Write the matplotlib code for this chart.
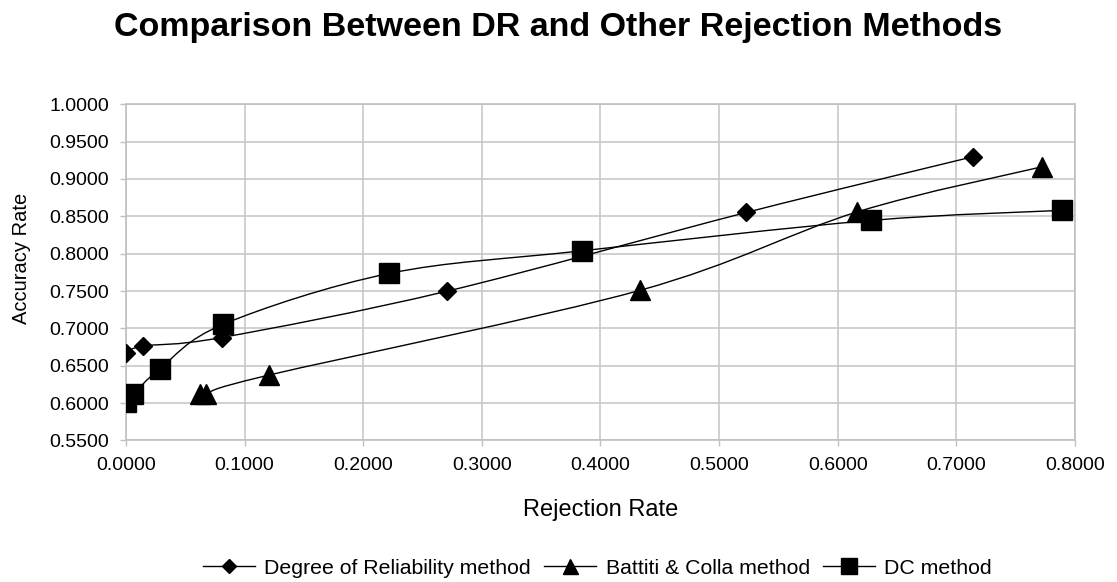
import matplotlib
matplotlib.use("Agg")
import numpy as np
import matplotlib.pyplot as plt
from matplotlib.path import Path
from matplotlib.patches import PathPatch
from matplotlib.lines import Line2D

plt.rcParams['font.family'] = ['Liberation Sans', 'DejaVu Sans']

# data
dr_x = [0.0000, 0.0147, 0.0806, 0.2705, 0.5230, 0.7140]
dr_y = [0.6670, 0.6764, 0.6877, 0.7497, 0.8552, 0.9298]

bc_x = [0.0627, 0.0675, 0.1207, 0.4335, 0.6166, 0.7724]
bc_y = [0.6126, 0.6126, 0.6375, 0.7510, 0.8560, 0.9164]

dc_x = [0.0000, 0.0062, 0.0288, 0.0821, 0.2218, 0.3842, 0.6280, 0.7890]
dc_y = [0.6013, 0.6117, 0.6461, 0.7055, 0.7735, 0.8038, 0.8445, 0.8580]

labels = ['Degree of Reliability method', 'Battiti & Colla method', 'DC method']
x_ticks = [0.0, 0.1, 0.2, 0.3, 0.4, 0.5, 0.6, 0.7, 0.8]
y_ticks = [0.55, 0.60, 0.65, 0.70, 0.75, 0.80, 0.85, 0.90, 0.95, 1.00]


def smooth_path(xs, ys):
    # Excel-like smoothed line: cubic bezier segments (Catmull-Rom control points)
    p = np.column_stack([xs, ys])
    n = len(p)
    verts = [p[0]]
    codes = [Path.MOVETO]
    for i in range(n - 1):
        p0 = p[i - 1] if i > 0 else p[i]
        p1 = p[i]
        p2 = p[i + 1]
        p3 = p[i + 2] if i + 2 < n else p[i + 1]
        c1 = p1 + (p2 - p0) / 6.0
        c2 = p2 - (p3 - p1) / 6.0
        verts += [c1, c2, p2]
        codes += [Path.CURVE4] * 3
    return Path(verts, codes)


fig = plt.figure(figsize=(11.17, 5.82), dpi=100)
ax = fig.add_axes([0.1127, 0.2433, 0.8497, 0.5775])

series = [
    (dr_x, dr_y, 'D', 9.2),
    (bc_x, bc_y, '^', 14.4),
    (dc_x, dc_y, 's', 15.0),
]

handles = []
for (xs, ys, mk, ms), lab in zip(series, labels):
    ax.add_patch(PathPatch(smooth_path(xs, ys), facecolor='none',
                           edgecolor='black', linewidth=1.0, zorder=3))
    ax.plot(xs, ys, linestyle='none', marker=mk, markersize=ms,
            color='black', zorder=4)
    handles.append(Line2D([], [], color='black', linewidth=1.0, marker=mk,
                          markersize=ms * 0.75, label=lab))

ax.set_xlim(0, 0.8)
ax.set_ylim(0.55, 1.0)
ax.set_xticks(x_ticks)
ax.set_yticks(y_ticks)
ax.set_xticklabels([f'{v:.4f}' for v in x_ticks])
ax.set_yticklabels([f'{v:.4f}' for v in y_ticks])
ax.tick_params(labelsize=14, length=4, width=1, color='#c0c0c0', pad=8)
ax.grid(True, color='#c8c8c8', linewidth=1.2)
ax.set_axisbelow(True)
for sp in ax.spines.values():
    sp.set_color('#c0c0c0')
    sp.set_linewidth(1.2)

ax.set_xlabel('Rejection Rate', fontsize=17, labelpad=18)
ax.set_ylabel('Accuracy Rate', fontsize=14.5, va='center')
ax.yaxis.set_label_coords(-0.1095, 0.541)

fig.suptitle('Comparison Between DR and Other Rejection Methods',
             fontsize=24.5, fontweight='bold', x=0.5, y=0.98)

fig.legend(handles=handles, loc='center', bbox_to_anchor=(0.535, 0.024),
           ncol=3, frameon=False, fontsize=15.3, handlelength=2.45,
           handletextpad=0.43, columnspacing=0.63)

fig.savefig('out.png', dpi=100)
